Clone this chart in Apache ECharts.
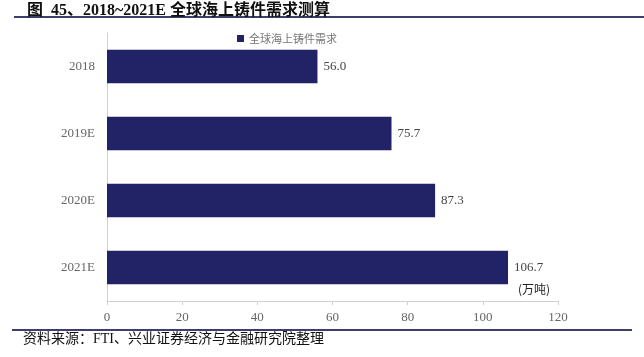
<!DOCTYPE html>
<html><head><meta charset="utf-8">
<script src="https://cdn.jsdelivr.net/npm/echarts@6/dist/echarts.min.js"></script>
<style>html,body{margin:0;padding:0;background:#fff}#c{width:644px;height:357px}</style>
</head><body><div id="c"></div>
<script>
const categories = ['2018', '2019E', '2020E', '2021E'];
const values = [56.0, 75.7, 87.3, 106.7];
const seriesName = '全球海上铸件需求';
const xTicks = [0, 20, 40, 60, 80, 100, 120];
const titleText = '图  45、2018~2021E 全球海上铸件需求测算';
const sourceText = '资料来源：FTI、兴业证券经济与金融研究院整理';
const unitText = '(万吨)';

const chart = echarts.init(document.getElementById('c'));
const serif = '"Liberation Serif", "Noto Sans CJK SC", serif';
chart.setOption({
  animation: false,
  title: {
    text: titleText, left: 22, top: -2,
    textStyle: { fontFamily: '"Liberation Serif", "Noto Sans CJK SC", serif', fontWeight: 'bold', fontSize: 16, color: '#111' }
  },
  legend: {
    data: [seriesName], left: 232, top: 28, itemWidth: 7, itemHeight: 7, icon: 'rect', itemGap: 4,
    textStyle: { fontFamily: '"Noto Sans CJK SC"', fontSize: 11, color: '#777' }
  },
  grid: { left: 107, right: 86, top: 33, bottom: 56 },
  xAxis: {
    type: 'value', min: xTicks[0], max: xTicks[xTicks.length - 1], interval: 20,
    axisLine: { show: true, lineStyle: { color: '#d0d0d0' } },
    axisTick: { show: true, length: 4, lineStyle: { color: '#d0d0d0' } },
    splitLine: { show: false },
    axisLabel: { fontFamily: serif, fontSize: 13, color: '#666', margin: 10 }
  },
  yAxis: {
    type: 'category', data: categories, inverse: true,
    axisLine: { show: true, lineStyle: { color: '#d0d0d0' } },
    axisTick: { show: false },
    axisLabel: { fontFamily: serif, fontSize: 13, color: '#666', margin: 12 }
  },
  series: [{
    name: seriesName, type: 'bar', data: values, barWidth: '50%',
    itemStyle: { color: '#222266' },
    label: { show: true, position: 'right', distance: 6, fontFamily: serif, fontSize: 13, color: '#444',
      formatter: p => p.value.toFixed(1) }
  }],
  graphic: [
    { type: 'line', shape: { x1: 14, y1: 17, x2: 644, y2: 17 }, style: { stroke: '#3c3f6e', lineWidth: 2 } },
    { type: 'line', shape: { x1: 12, y1: 330, x2: 632, y2: 330 }, style: { stroke: '#3c3f6e', lineWidth: 2 } },
    { type: 'text', left: 23, top: 332, style: { text: sourceText, font: '14px "Liberation Serif", "Noto Sans CJK SC"', fill: '#111' } },
    { type: 'text', left: 518, top: 283, style: { text: unitText, font: '12px "Noto Sans CJK SC"', fill: '#222' } }
  ]
});
</script></body></html>
